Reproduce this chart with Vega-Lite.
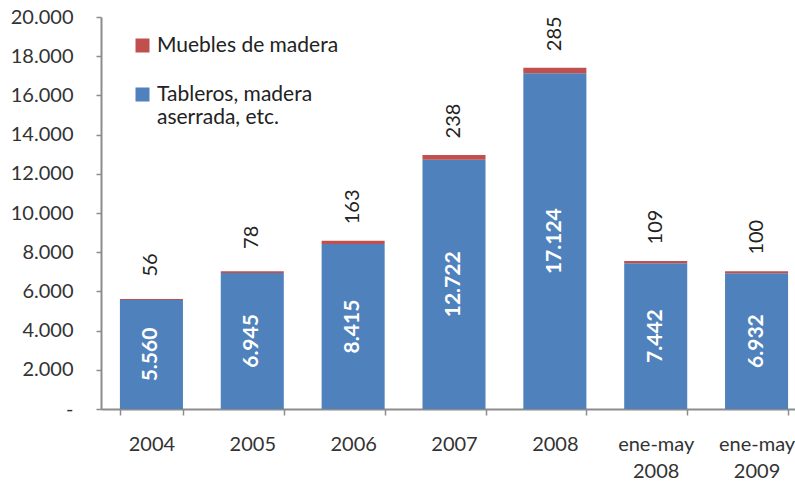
{
  "$schema": "https://vega.github.io/schema/vega-lite/v6.json",
  "autosize": "none",
  "width": 694,
  "height": 392,
  "padding": {"left": 101, "top": 17, "right": 0, "bottom": 72},
  "background": "white",
  "config": {
    "locale": {"number": {"decimal": ",", "thousands": ".", "grouping": [3], "currency": ["", ""]}},
    "view": {"stroke": null},
    "font": "Lato",
    "axis": {"labelFont": "Lato", "labelFontSize": 20, "labelColor": "#333333", "domainColor": "#8c8c8c", "tickColor": "#8c8c8c", "domainWidth": 2, "tickWidth": 1.5, "grid": false, "title": null, "labelOverlap": false},
    "legend": {"labelFont": "Lato", "labelFontSize": 21, "labelColor": "#222222"}
  },
  "data": {
    "values": [
      {"periodo": "2004", "tableros": 5560, "muebles": 56},
      {"periodo": "2005", "tableros": 6945, "muebles": 78},
      {"periodo": "2006", "tableros": 8415, "muebles": 163},
      {"periodo": "2007", "tableros": 12722, "muebles": 238},
      {"periodo": "2008", "tableros": 17124, "muebles": 285},
      {"periodo": "ene-may 2008", "tableros": 7442, "muebles": 109},
      {"periodo": "ene-may 2009", "tableros": 6932, "muebles": 100}
    ]
  },
  "encoding": {
    "x": {
      "field": "periodo",
      "type": "nominal",
      "sort": null,
      "scale": {"range": [0, 706], "paddingInner": 0.375, "paddingOuter": 0.1875},
      "axis": {"labelAngle": 0, "tickBand": "extent", "tickSize": 6, "labelPadding": 19, "labelLineHeight": 27, "labelExpr": "split(datum.label, ' ')"}
    }
  },
  "layer": [
    {
      "transform": [
        {"fold": ["tableros", "muebles"], "as": ["clave", "valor"]},
        {"calculate": "datum.clave == 'tableros' ? 'Tableros, madera aserrada, etc.' : 'Muebles de madera'", "as": "serie"}
      ],
      "mark": {"type": "bar"},
      "encoding": {
        "y": {
          "field": "valor",
          "type": "quantitative",
          "stack": "zero",
          "scale": {"domain": [0, 20000], "nice": false},
          "axis": {"values": [0, 2000, 4000, 6000, 8000, 10000, 12000, 14000, 16000, 18000, 20000], "tickCount": 11, "labelOverlap": false, "tickSize": 5, "labelPadding": 23, "labelExpr": "datum.value == 0 ? '-' : replace(format(datum.value, ','), ',', '.')"}
        },
        "color": {
          "field": "serie",
          "type": "nominal",
          "scale": {"domain": ["Muebles de madera", "Tableros, madera aserrada, etc."], "range": ["#C0504D", "#4F81BD"]},
          "legend": {
            "title": null,
            "orient": "none",
            "legendX": 31,
            "legendY": 18,
            "padding": 0,
            "symbolType": "square",
            "symbolSize": 196,
            "symbolStrokeWidth": 0,
            "symbolOffset": 0,
            "labelOffset": 4,
            "labelLimit": 400,
            "rowPadding": 27,
            "labelLineHeight": 25,
            "labelExpr": "datum.label == 'Tableros, madera aserrada, etc.' ? ['Tableros, madera', 'aserrada, etc.'] : datum.label"
          }
        },
        "order": {"field": "serie", "sort": "descending"}
      }
    },
    {
      "transform": [{"calculate": "datum.tableros / 2", "as": "medio"}],
      "mark": {"type": "text", "angle": -90, "align": "center", "baseline": "middle", "color": "white", "fontWeight": "bold", "fontSize": 21, "font": "Lato"},
      "encoding": {
        "y": {"field": "medio", "type": "quantitative"},
        "text": {"field": "tableros", "type": "quantitative", "format": ",.0f"}
      }
    },
    {
      "transform": [{"calculate": "datum.tableros + datum.muebles", "as": "total"}],
      "mark": {"type": "text", "angle": -90, "align": "center", "baseline": "middle", "color": "#222222", "fontSize": 20, "font": "Lato", "dx": 34},
      "encoding": {
        "y": {"field": "total", "type": "quantitative"},
        "text": {"field": "muebles", "type": "quantitative"}
      }
    }
  ]
}
